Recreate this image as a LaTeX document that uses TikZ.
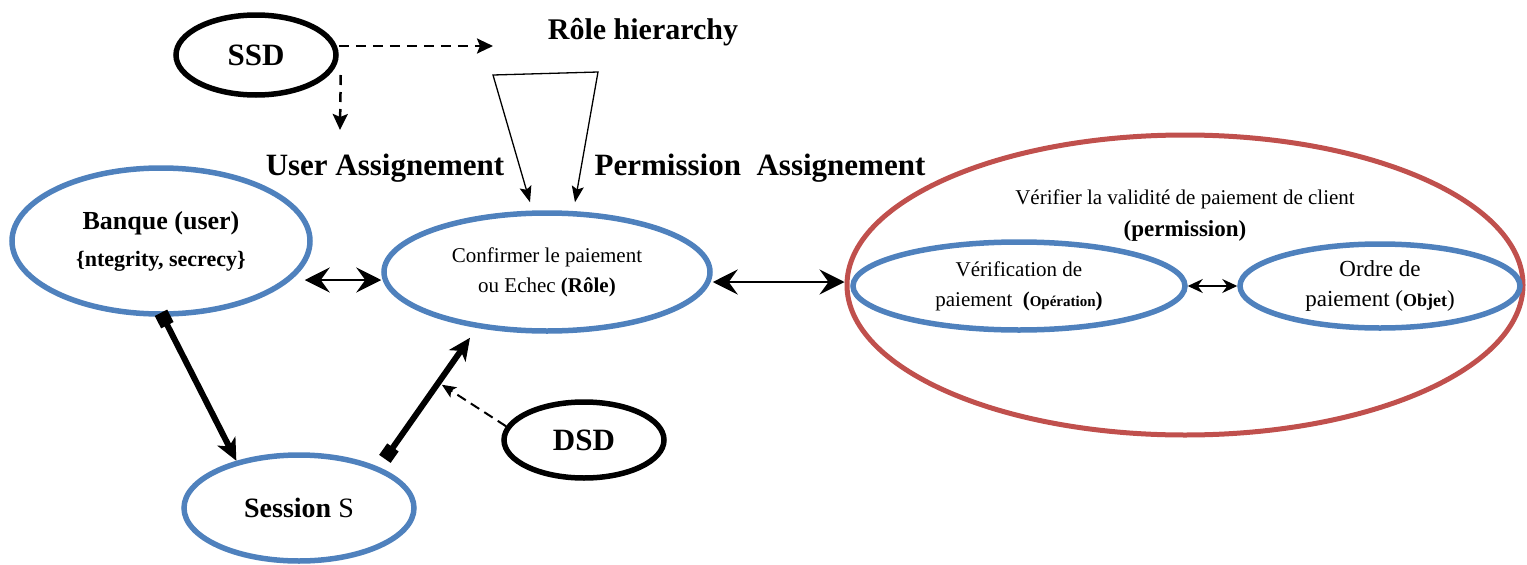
\documentclass[tikz,border=0pt]{standalone}
\usepackage{fontspec}
\setmainfont{Liberation Serif}
\usepackage{tikz}
\usetikzlibrary{shapes.geometric}
\usetikzlibrary{arrows.meta}
\usetikzlibrary{calc}
\definecolor{rbblue}{RGB}{79,129,189}
\definecolor{rbred}{RGB}{192,80,77}

\begin{document}
\begin{tikzpicture}[x=1pt, y=-1pt,
  blueell/.style={ellipse, draw=rbblue, line width=5.5pt, inner sep=0pt, align=center},
  blackell/.style={ellipse, draw=black, line width=5.5pt, inner sep=0pt, font=\fontsize{31}{37}\selectfont\bfseries},
  headtxt/.style={inner sep=0pt, font=\fontsize{31}{37}\selectfont\bfseries},
  dasharrow/.style={dashed, dash pattern=on 10pt off 7pt, line width=2.5pt, -{Stealth[length=16pt,width=15pt,inset=3pt]}},
  dashsmall/.style={dashed, dash pattern=on 10pt off 6pt, line width=2pt, -{Stealth[length=14pt,width=12pt,inset=3pt]}},
  funnelarrow/.style={line width=1.3pt, {Stealth[length=16pt,width=12pt,inset=3pt]}-{Stealth[length=16pt,width=12pt,inset=3pt]}},
  dblarrow/.style={line width=2pt, {Stealth[length=25pt,width=25pt,inset=9pt]}-{Stealth[length=25pt,width=25pt,inset=9pt]}},
  smallarrow/.style={line width=1.5pt, {Stealth[length=15pt,width=14pt,inset=5pt]}-{Stealth[length=15pt,width=14pt,inset=5pt]}},
  thickarrow/.style={line width=6pt, {Square[length=14pt,width=14pt]}-{Stealth[length=22pt,width=20pt,inset=6pt]}}]
\useasboundingbox (0,0) rectangle (1527,565);
\begin{scope}
  \node[blackell, minimum width=160pt, minimum height=80pt] (SSD) at (256,55) {SSD}; %SSD
  \node[blackell, minimum width=160pt, minimum height=76pt] (DSD) at (584,440) {DSD}; %DSD
  \node[headtxt, font=\fontsize{30}{36}\selectfont\bfseries] (rh) at (643,32) {Rôle hierarchy}; %hierarchy
  \node[headtxt] (ua) at (385,168) {User Assignement}; %UA
  \node[headtxt] (pa) at (760,168) {Permission\ \ Assignement}; %PA
  \node[blueell, minimum width=298pt, minimum height=146pt, font=\fontsize{22}{37}\selectfont\bfseries] (banque) at (161,241) {{\fontsize{26}{37}\selectfont Banque (user)}\\\{ntegrity, secrecy\}}; %user
  \node[blueell, minimum width=326pt, minimum height=118pt, font=\fontsize{21}{30}\selectfont] (role) at (547,272) {Confirmer le paiement\\ou Echec \textbf{(Rôle)}}; %role
  \node[blueell, minimum width=230pt, minimum height=106pt, font=\fontsize{28}{34}\selectfont] (session) at (299,508) {\textbf{Session} S}; %session
  \node[ellipse, draw=rbred, line width=5pt, inner sep=0pt, minimum width=676pt, minimum height=300pt] (valid) at (1185,285) {}; %permission
  \node[align=center, font=\fontsize{21}{32}\selectfont] (perm) at (1185,216) {Vérifier la validité de paiement de client\\{\fontsize{23}{32}\selectfont\bfseries (permission)}}; %permission text
  \node[blueell, minimum width=332pt, minimum height=88pt, font=\fontsize{21}{30}\selectfont] (verif) at (1019,286) {Vérification de\\paiement\ \ \textbf{(}{\fontsize{15}{30}\selectfont\bfseries Opération}\textbf{)}}; %operation
  \node[blueell, minimum width=280pt, minimum height=84pt, font=\fontsize{23}{30}\selectfont] (ordre) at (1380,286) {Ordre de\\paiement ({\fontsize{18}{30}\selectfont\bfseries Objet})}; %object
  \coordinate (rhtip) at (493,46);
  \coordinate (uatip) at (340,130);
  \coordinate (fl) at (493,75);
  \coordinate (fr) at (598,72);
  \draw[dasharrow] ([yshift=9pt]SSD.east) -- (rhtip);
  \draw[dasharrow] ([xshift=2pt,yshift=-20pt]SSD.east) -- (uatip);
  \draw[funnelarrow] ([xshift=-17pt,yshift=8pt]role.north) -- (fl) -- (fr) -- ([xshift=28pt,yshift=8pt]role.north);
  \draw[dblarrow] ($(banque.east |- role.west)+(-8,8)$) -- ($(role.west)+(0,8)$);
  \draw[dblarrow] ($(role.east)+(0,10)$) -- ($(role.east -| valid.west)+(0,10)$);
  \draw[smallarrow] (verif.east) -- (ordre.west);
  \draw[thickarrow] ($(banque.south)+(0,-4)$) -- (session.143);
  \draw[thickarrow] ($(session.25)+(2,-10)$) -- coordinate[pos=0.63] (dsdhit) ($(role.south)+(-77,4)$);
  \draw[dashsmall, shorten >=4pt] (DSD.170) -- (dsdhit);
\end{scope}
\end{tikzpicture}
\end{document}
